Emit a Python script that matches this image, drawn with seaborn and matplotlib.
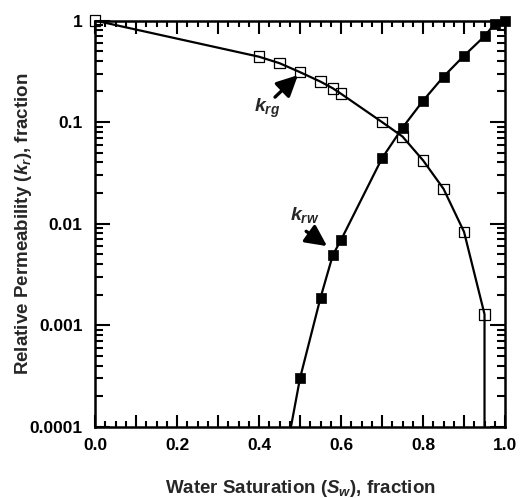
import numpy as np
import pandas as pd
import matplotlib
matplotlib.use("Agg")
import matplotlib.pyplot as plt
from matplotlib.ticker import FixedLocator, FixedFormatter, LogLocator, NullFormatter
import seaborn as sns

# Gas relative permeability (open squares)
sw_krg = [0.0, 0.40, 0.45, 0.50, 0.55, 0.58, 0.60, 0.70, 0.75, 0.80, 0.85, 0.90, 0.95]
krg = [1.0, 0.44, 0.38, 0.31, 0.25, 0.215, 0.19, 0.10, 0.072, 0.042, 0.022, 0.0083, 0.00128]

# Water relative permeability (filled squares)
sw_krw = [0.50, 0.55, 0.58, 0.60, 0.70, 0.75, 0.80, 0.85, 0.90, 0.95, 0.975, 1.0]
krw = [0.0003, 0.00186, 0.0049, 0.0069, 0.044, 0.088, 0.162, 0.28, 0.45, 0.70, 0.93, 1.0]

# Curve ends that run off the bottom of the log axis
krg_tail_sw = [0.95]
krg_tail = [0.00005]
krw_head_sw = [0.478]
krw_head = [0.0001]

x_ticks = [0.0, 0.1, 0.2, 0.3, 0.4, 0.5, 0.6, 0.7, 0.8, 0.9, 1.0]
x_labels = ["0.0", "", "0.2", "", "0.4", "", "0.6", "", "0.8", "", "1.0"]
y_ticks = [0.0001, 0.001, 0.01, 0.1, 1]
y_labels = ["0.0001", "0.001", "0.01", "0.1", "1"]

sns.set_style("ticks")
plt.rcParams["font.family"] = ["Liberation Sans", "DejaVu Sans"]
plt.rcParams["font.weight"] = "bold"
plt.rcParams["mathtext.fontset"] = "custom"
plt.rcParams["mathtext.it"] = "Liberation Sans:bold:italic"
plt.rcParams["mathtext.rm"] = "Liberation Sans:bold"
plt.rcParams["mathtext.bf"] = "Liberation Sans:bold"

fig = plt.figure(figsize=(5.2, 4.98), dpi=100)
ax = fig.add_axes([0.1827, 0.1432, 0.7885, 0.8156])

line_krg = pd.DataFrame({"sw": sw_krg + krg_tail_sw, "kr": krg + krg_tail})
line_krw = pd.DataFrame({"sw": krw_head_sw + sw_krw, "kr": krw_head + krw})
sns.lineplot(data=line_krg, x="sw", y="kr", sort=False, estimator=None,
             color="black", lw=1.6, ax=ax)
sns.lineplot(data=line_krw, x="sw", y="kr", sort=False, estimator=None,
             color="black", lw=1.6, ax=ax)

pts_krg = pd.DataFrame({"sw": sw_krg, "kr": krg})
pts_krw = pd.DataFrame({"sw": sw_krw, "kr": krw})
sns.scatterplot(data=pts_krg, x="sw", y="kr", marker="s", s=58,
                facecolor="none", edgecolor="black", linewidth=0.9,
                ax=ax, clip_on=False, zorder=5)
sns.scatterplot(data=pts_krw, x="sw", y="kr", marker="s", s=60,
                color="black", edgecolor="black", linewidth=0.5,
                ax=ax, clip_on=False, zorder=5)

ax.set_yscale("log")
ax.set_xlim(0, 1)
ax.set_ylim(0.0001, 1)

ax.xaxis.set_major_locator(FixedLocator(x_ticks))
ax.xaxis.set_major_formatter(FixedFormatter(x_labels))
ax.xaxis.set_minor_locator(FixedLocator(np.arange(0, 1.0001, 0.025)))
ax.yaxis.set_major_locator(FixedLocator(y_ticks))
ax.yaxis.set_major_formatter(FixedFormatter(y_labels))
ax.yaxis.set_minor_locator(LogLocator(base=10, subs=np.arange(2, 10)))
ax.yaxis.set_minor_formatter(NullFormatter())

ax.tick_params(which="both", direction="in", top=True, right=True,
               width=1.5, colors="black", labelsize=12.5)
ax.tick_params(axis="x", which="major", length=9, pad=8)
ax.tick_params(axis="x", which="minor", length=4.5)
ax.tick_params(axis="y", which="major", length=10.5, pad=9)
ax.tick_params(axis="y", which="minor", length=5.5)
for lab in ax.get_xticklabels() + ax.get_yticklabels():
    lab.set_fontweight("bold")

for sp in ax.spines.values():
    sp.set_linewidth(1.8)
    sp.set_color("black")

ax.set_xlabel("Water Saturation ($S_w$), fraction", fontsize=13.5,
              fontweight="bold", labelpad=18)
ax.set_ylabel("Relative Permeability ($k_r$), fraction", fontsize=13.5,
              fontweight="bold")
ax.yaxis.set_label_coords(-0.149, 0.5)

# Curve labels with pointer arrows
arrow = dict(arrowstyle="-|>,head_length=0.85,head_width=0.42", color="black",
             lw=2.4, mutation_scale=15, shrinkA=0, shrinkB=0)
ax.text(0.42, 0.137, "$k_{rg}$", ha="center", va="center", fontsize=14)
ax.annotate("", xy=(0.495, 0.29), xytext=(0.439, 0.176), arrowprops=arrow)
ax.text(0.512, 0.0121, "$k_{rw}$", ha="center", va="center", fontsize=14)
ax.annotate("", xy=(0.566, 0.006), xytext=(0.515, 0.0084), arrowprops=arrow)

fig.savefig("out.png", dpi=100, facecolor="white")
